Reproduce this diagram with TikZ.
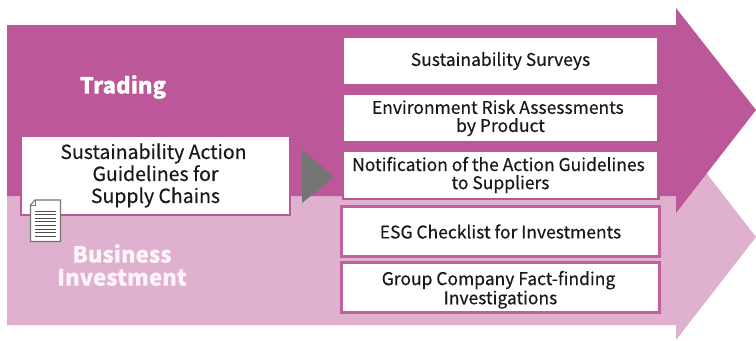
\documentclass[tikz,border=0pt]{standalone}
\usepackage{fontspec}
\setmainfont{Noto Sans CJK JP}[FakeBold=0.35]
\usepackage{xcolor}
\usepackage{tikz}
\definecolor{tradecol}{HTML}{BC5799}
\definecolor{investcol}{HTML}{DFB1CF}
\definecolor{framecol}{HTML}{C2609F}
\definecolor{markcol}{HTML}{757575}
\definecolor{investtext}{HTML}{FDF3FA}
\tikzset{
  actionbox/.style={draw=framecol,fill=white,line width=1.9pt,align=center,inner sep=0pt,
    text=black!90,font=\fontsize{13.1}{13.6}\selectfont},
  headlabel/.style={align=center,font=\fontsize{16.7}{17.2}\selectfont\bfseries},
  upperbox/.style={actionbox,draw=tradecol,minimum width=236.6pt,minimum height=35.8pt},
  lowerbox/.style={actionbox,line width=2.2pt,minimum width=238pt,minimum height=37pt},
}
\begin{document}
\begin{tikzpicture}[x=0.75pt,y=-0.75pt]
\useasboundingbox (0,0) rectangle (756,340);
% arrows
\fill[investcol] (7,149) -- (676,149) -- (676,134) -- (756,237) -- (676,340) -- (676,325) -- (7,325) -- cycle;
\fill[tradecol] (7,25) -- (676,25) -- (676,8) -- (756,110) -- (676,213) -- (676,196) -- (7,196) -- cycle;
% labels
\node[headlabel,text=white] (TRADING) at (123,87) {Trading};
\node[headlabel,text=investtext] (INVEST) at (122,265) {Business\\Investment};
% left box
\node[actionbox,draw=tradecol,minimum width=202pt,minimum height=59pt,font=\fontsize{14.6}{16.5}\selectfont] (GUIDE) at (155.5,175.5) {Sustainability Action\hspace*{3pt}\\Guidelines for\hspace*{3pt}\\Supply Chains};
\fill[markcol] (302,150) -- (334,177) -- (302,203) -- cycle;
% document icon
\draw[markcol,fill=white,line width=0.8pt] (35,200) -- (60.5,200) -- (60.5,241.5) -- (30.5,241.5) -- (30.5,205) -- cycle;
\draw[markcol,line width=0.6pt] (30.5,205) -- (35,205) -- (35,200);
\foreach \y in {211,214.6,218.2,221.8,225.4,229,232.6,236}
  \draw[black!70,line width=0.6pt] (35,\y) -- (56,\y);
% right boxes
\node[upperbox] (SURVEY) at (500.5,61) {Sustainability Surveys};
\node[upperbox] (RISK) at (500.5,118) {Environment Risk Assessments\hspace*{4pt}\\by Product};
\node[upperbox] (NOTICE) at (500.5,175) {Notification of the Action Guidelines\hspace*{3pt}\\to Suppliers};
\node[lowerbox] (CHECK) at (500.5,231.5) {ESG Checklist for Investments};
\node[lowerbox] (GROUP) at (500.5,287.5) {\rule{0pt}{14pt}Group Company Fact-finding\hspace*{3pt}\\[0.8pt]Investigations};
\end{tikzpicture}
\end{document}
